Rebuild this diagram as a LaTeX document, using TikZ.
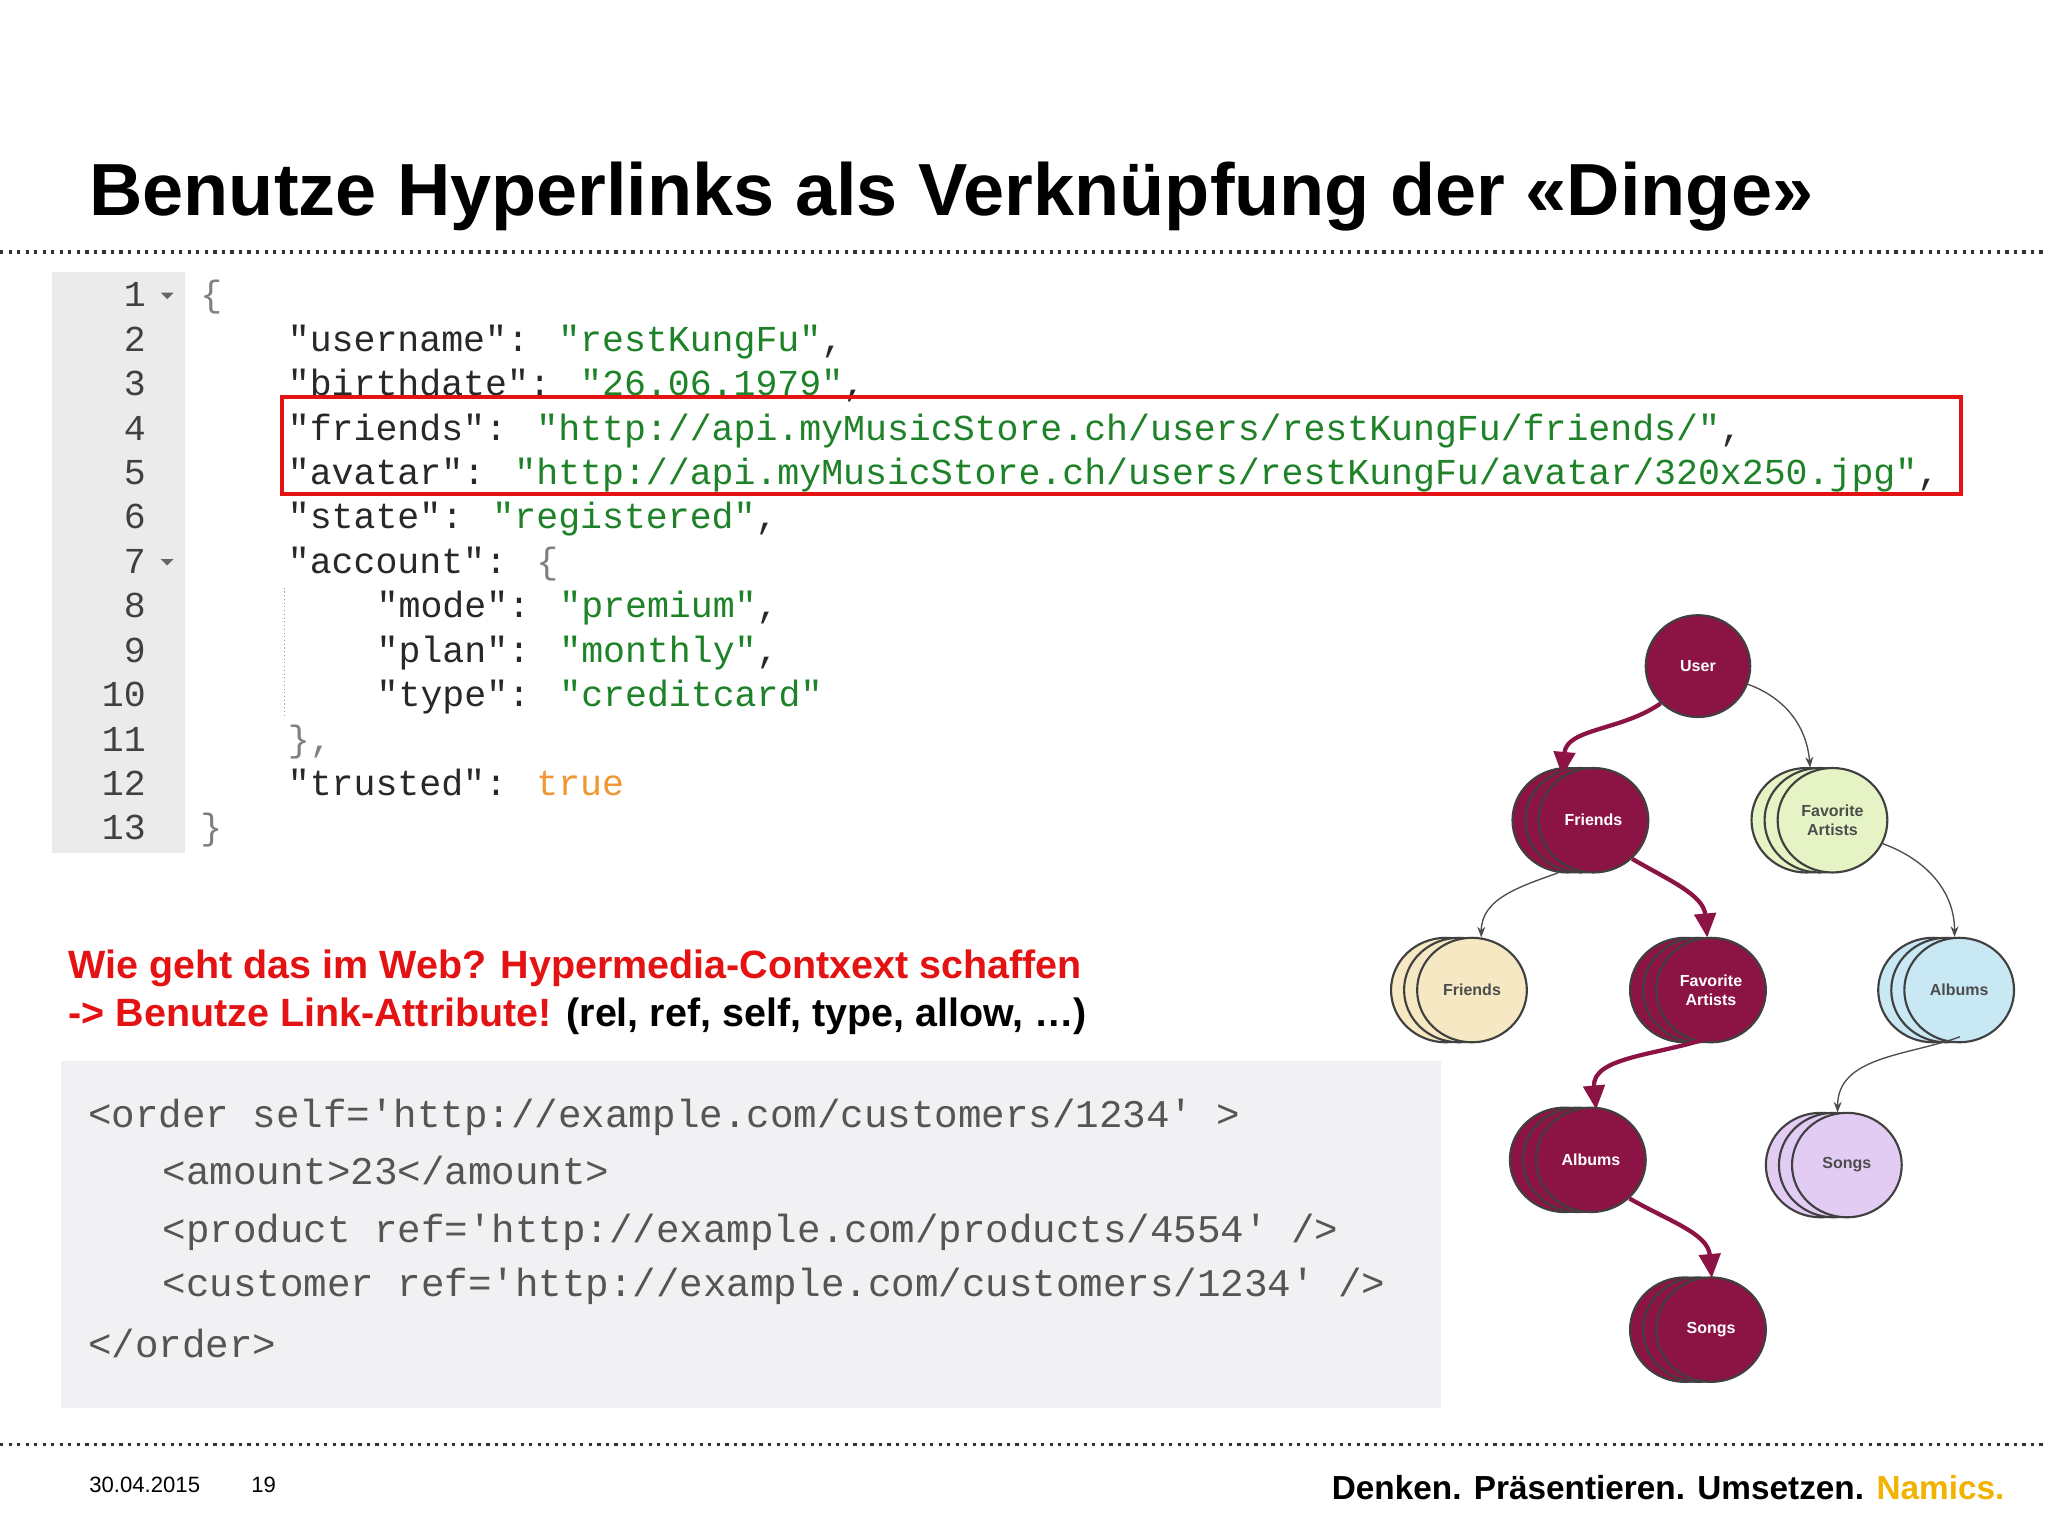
\documentclass[tikz,border=0pt]{standalone}
\usepackage{fontspec}
\setmainfont{Liberation Sans}
\newfontfamily\cmono{Liberation Mono}
\usetikzlibrary{shapes.geometric,arrows.meta}
\definecolor{dred}{RGB}{140,20,68}
\definecolor{jstr}{RGB}{30,130,40}
\definecolor{jkey}{RGB}{40,40,40}
\definecolor{jtrue}{RGB}{240,150,50}
\definecolor{gutter}{RGB}{235,235,235}
\definecolor{codebg}{RGB}{241,241,243}
\definecolor{codefg}{RGB}{85,85,85}
\definecolor{redtxt}{RGB}{228,18,18}
\definecolor{namics}{RGB}{242,178,0}
\definecolor{cbeige}{RGB}{247,232,196}
\definecolor{cgreen}{RGB}{230,243,196}
\definecolor{cblue}{RGB}{200,232,244}
\definecolor{cpurple}{RGB}{226,204,244}
\newcommand{\U}{0.4898pt}
\tikzset{
  json/.style={anchor=base west,inner sep=0,font=\cmono\fontsize{13.7pt}{16pt}\selectfont,text=jkey},
  lnum/.style={anchor=base east,inner sep=0,font=\cmono\fontsize{13.7pt}{16pt}\selectfont,text=black!75},
  xml/.style={anchor=base west,inner sep=0,font=\cmono\fontsize{14.7pt}{17pt}\selectfont,text=codefg},
  ell/.style={ellipse,draw=black!75,line width=0.8pt,minimum width={84*\U},minimum height={80*\U},inner sep=0,font=\bfseries\fontsize{6pt}{7pt}\selectfont,align=center},
  dk/.style={ell,fill=dred,text=white},
  thick arr/.style={draw=dred,line width=1.6pt,-{Triangle[length=9pt,width=8pt]}},
  thin arr/.style={draw=black!70,line width=0.5pt,-{Stealth[length=4pt,width=3pt]}},
}
\newcommand{\stack}[5]{% name, x, y, style, text
  \node[#4] (#1c) at (#2-20,#3) {};
  \node[#4] (#1b) at (#2-10,#3) {};
  \node[#4] (#1) at (#2,#3) {#5};
}
\begin{document}
\begin{tikzpicture}[x=\U,y=-\U]
\useasboundingbox (0,0) rectangle (1568,1176);
\fill[white] (0,0) rectangle (1568,1176);
% title
\node[anchor=base west,inner sep=0,font=\bfseries\fontsize{27.7pt}{31pt}\selectfont] (title) at (68,165) {Benutze Hyperlinks als Verknüpfung der «Dinge»};
\draw[line width=1.2pt,dotted,black!80] (0,193) -- (1568,193);
\draw[line width=1.2pt,dotted,black!80] (0,1106) -- (1568,1106);
% JSON editor
\fill[gutter] (40,208) rectangle (142,653);
\foreach \i in {1,...,13} {\node[lnum] (n\i) at (112,{226+34*(\i-1)+9}) {\i};}
\fill[black!60] (123,224) -- (133,224) -- (128,229) -- cycle;
\fill[black!60] (123,428) -- (133,428) -- (128,433) -- cycle;
\draw[black!40,densely dotted] (218,450) -- (218,550);
\node[json] (j1) at (153,235) {\textcolor{black!50}{\{}};
\node[json] (j2) at (220,269) {"username": \textcolor{jstr}{"restKungFu"},};
\node[json] (j3) at (220,303) {"birthdate": \textcolor{jstr}{"26.06.1979"},};
\node[json] (j4) at (220,337) {"friends": \textcolor{jstr}{"http://api.myMusicStore.ch/users/restKungFu/friends/"},};
\node[json] (j5) at (220,371) {"avatar": \textcolor{jstr}{"http://api.myMusicStore.ch/users/restKungFu/avatar/320x250.jpg"},};
\node[json] (j6) at (220,405) {"state": \textcolor{jstr}{"registered"},};
\node[json] (j7) at (220,439) {"account": \textcolor{black!50}{\{}};
\node[json] (j8) at (288,473) {"mode": \textcolor{jstr}{"premium"},};
\node[json] (j9) at (288,507) {"plan": \textcolor{jstr}{"monthly"},};
\node[json] (j10) at (288,541) {"type": \textcolor{jstr}{"creditcard"}};
\node[json] (j11) at (220,575) {\textcolor{black!50}{\},}};
\node[json] (j12) at (220,609) {"trusted": \textcolor{jtrue}{true}};
\node[json] (j13) at (153,643) {\textcolor{black!50}{\}}};
\draw[redtxt,line width=1.5pt] (216,304) rectangle (1501,378);
% red text
\node[anchor=base west,inner sep=0,font=\bfseries\fontsize{14.8pt}{17pt}\selectfont,text=redtxt] (r1) at (52,749) {Wie geht das im Web? Hypermedia-Contxext schaffen};
\node[anchor=base west,inner sep=0,font=\bfseries\fontsize{14.8pt}{17pt}\selectfont,text=redtxt] (r2) at (52,786) {-> Benutze Link-Attribute! \textcolor{black}{(rel, ref, self, type, allow, …)}};
% xml box
\fill[codebg] (47,812) rectangle (1103,1078);
\node[xml] (x1) at (67,863) {<order self='http://example.com/customers/1234' >};
\node[xml] (x2) at (124,907) {<amount>23</amount>};
\node[xml] (x3) at (124,951) {<product ref='http://example.com/products/4554' />};
\node[xml] (x4) at (124,993) {<customer ref='http://example.com/customers/1234' />};
\node[xml] (x5) at (67,1039) {</order>};
% footer
\node[anchor=base west,inner sep=0,font=\fontsize{8.3pt}{10pt}\selectfont] (date) at (68,1143) {30.04.2015};
\node[anchor=base west,inner sep=0,font=\fontsize{8.3pt}{10pt}\selectfont] (page) at (192,1143) {19};
\node[anchor=base east,inner sep=0,font=\bfseries\fontsize{12.5pt}{14pt}\selectfont] (claim) at (1535,1148) {Denken. Präsentieren. Umsetzen. \textcolor{namics}{Namics.}};
% graph
\node[dk,minimum width={80*\U},minimum height={78*\U}] (user) at (1300,510) {User};
\stack{fr}{1220}{628}{dk}{Friends}
\stack{fa}{1403}{628}{ell,fill=cgreen,text=black!70}{Favorite\\Artists}
\stack{frb}{1127}{758}{ell,fill=cbeige,text=black!70}{Friends}
\stack{fad}{1310}{758}{dk}{Favorite\\Artists}
\stack{alb}{1500}{758}{ell,fill=cblue,text=black!70}{Albums}
\stack{ald}{1218}{888}{dk}{Albums}
\stack{son}{1414}{892}{ell,fill=cpurple,text=black!70}{Songs}
\stack{sod}{1310}{1018}{dk}{Songs}
\draw[thick arr] (user.225) to[out=215,in=85] (fr.125);
\draw[thick arr] (fr.-45) to[out=-30,in=95] (fadb.80);
\draw[thick arr] (fadc.-60) to[out=200,in=95] (aldb.70);
\draw[thick arr] (ald.-45) to[out=-30,in=95] (sodb.75);
\draw[thin arr] (user.-20) to[out=-20,in=95] (fab.100);
\draw[thin arr] (frc.-100) to[out=200,in=90] (frb.80);
\draw[thin arr] (fa.-25) to[out=-20,in=90] (alb.95);
\draw[thin arr] (albc.-60) to[out=200,in=90] (son.100);
\end{tikzpicture}
\end{document}
